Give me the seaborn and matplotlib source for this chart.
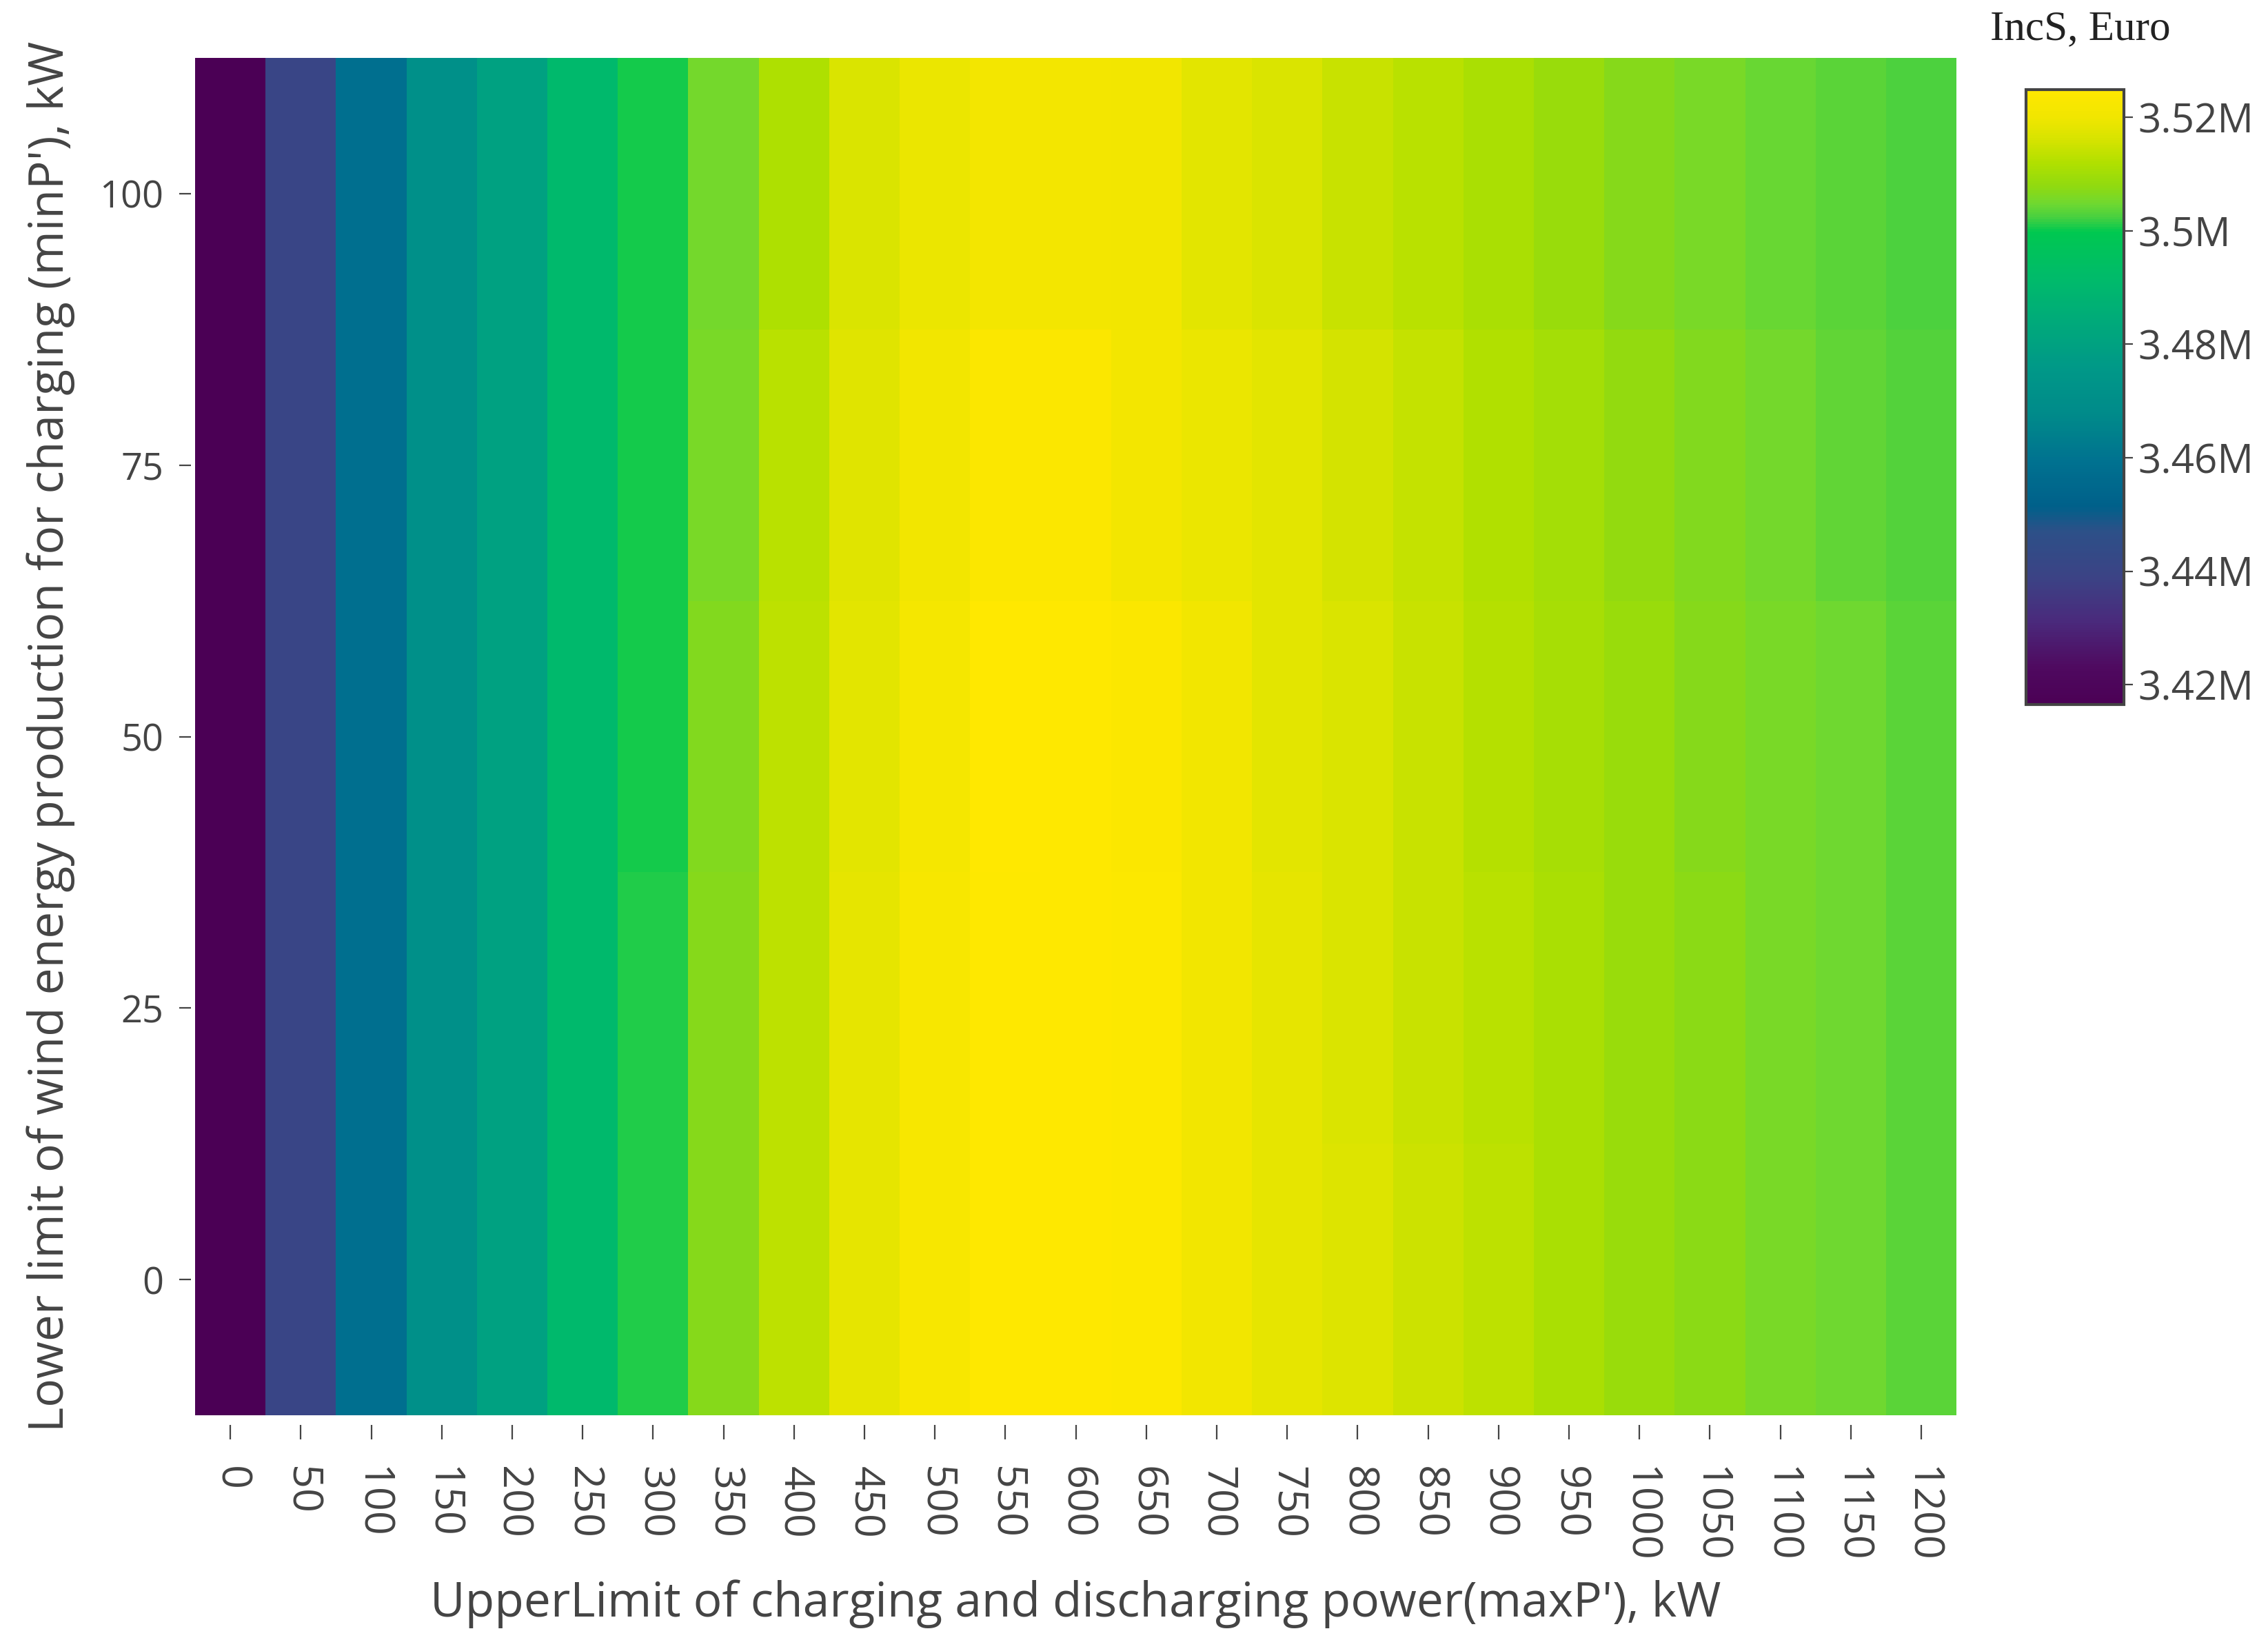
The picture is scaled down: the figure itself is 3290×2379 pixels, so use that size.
import numpy as np
import pandas as pd
import seaborn as sns
import matplotlib.pyplot as plt
from matplotlib.colors import LinearSegmentedColormap
from matplotlib.ticker import FuncFormatter

# x: UpperLimit of charging/discharging power (kW), y: lower limit of wind production (kW)
max_p = list(range(0, 1250, 50))
min_p = [100, 75, 50, 25, 0]  # top row first

# IncS in million Euro, one list per minP' row
row_100 = [3.4165, 3.4405, 3.4580, 3.4710, 3.4800, 3.4910, 3.5005, 3.5050, 3.5115, 3.5165,
           3.5190, 3.5210, 3.5210, 3.5205, 3.5180, 3.5165, 3.5145, 3.5130, 3.5112, 3.5090,
           3.5070, 3.5058, 3.5045, 3.5035, 3.5025]
row_75 = [3.4165, 3.4405, 3.4580, 3.4710, 3.4800, 3.4910, 3.5005, 3.5058, 3.5130, 3.5175,
          3.5205, 3.5235, 3.5235, 3.5210, 3.5190, 3.5178, 3.5160, 3.5140, 3.5118, 3.5103,
          3.5080, 3.5063, 3.5053, 3.5040, 3.5030]
row_50 = [3.4165, 3.4405, 3.4580, 3.4710, 3.4800, 3.4910, 3.5005, 3.5063, 3.5132, 3.5180,
          3.5215, 3.5249, 3.5244, 3.5235, 3.5205, 3.5180, 3.5165, 3.5145, 3.5125, 3.5108,
          3.5090, 3.5070, 3.5055, 3.5046, 3.5034]
row_25 = [3.4165, 3.4405, 3.4580, 3.4710, 3.4800, 3.4910, 3.5010, 3.5068, 3.5132, 3.5185,
          3.5220, 3.5244, 3.5244, 3.5238, 3.5205, 3.5185, 3.5165, 3.5145, 3.5130, 3.5110,
          3.5090, 3.5073, 3.5055, 3.5046, 3.5035]
row_0 = [3.4165, 3.4405, 3.4580, 3.4710, 3.4800, 3.4910, 3.5010, 3.5068, 3.5132, 3.5185,
         3.5220, 3.5244, 3.5244, 3.5238, 3.5205, 3.5185, 3.5170, 3.5150, 3.5132, 3.5110,
         3.5090, 3.5075, 3.5057, 3.5047, 3.5035]

cbar_ticks = [3.42, 3.44, 3.46, 3.48, 3.50, 3.52]

df = pd.DataFrame([row_100, row_75, row_50, row_25, row_0], index=min_p, columns=max_p)

# colour scale as seen on the reference colourbar
stops = [(0.0, '#4b0055'), (0.06, '#4f0a60'), (0.134, '#4a2a7c'), (0.207, '#3b4385'),
         (0.281, '#2d5088'), (0.321, '#00608a'), (0.396, '#007290'), (0.470, '#008a8a'),
         (0.546, '#009888'), (0.623, '#00aa7a'), (0.696, '#00bb6a'), (0.770, '#00c850'),
         (0.793, '#46d040'), (0.816, '#70d830'), (0.844, '#90da10'), (0.881, '#b0e000'),
         (0.918, '#d4e300'), (0.955, '#f0e600'), (1.0, '#ffe800')]
cmap = LinearSegmentedColormap.from_list('incs', stops)

sns.set_style('white')
plt.rcParams['font.family'] = ['Open Sans', 'DejaVu Sans']

fig = plt.figure(figsize=(32.91, 23.79), dpi=100)
ax = fig.add_axes([0.086, 0.137, 0.7764, 0.8277])
cax = fig.add_axes([0.893, 0.5704, 0.0431, 0.375])

sns.heatmap(df, ax=ax, cbar_ax=cax, cmap=cmap,
            vmin=df.values.min(), vmax=df.values.max(), linewidths=0)

grey = '#444444'
# ticks sit a little away from the cells, like the original
ax.spines['bottom'].set_position(('outward', 10))
ax.spines['left'].set_position(('outward', 4))

ax.set_xticks(np.arange(len(max_p)) + 0.5)
ax.set_xticklabels([str(v) for v in max_p], rotation=-90, ha='center', va='top')
ax.set_yticks(np.arange(len(min_p)) + 0.5)
ax.set_yticklabels([str(v) for v in min_p], rotation=0)
ax.tick_params(axis='both', direction='out', width=1.6, color=grey,
               labelcolor=grey, bottom=True, left=True)
ax.tick_params(axis='x', labelsize=44, length=15, pad=28)
ax.tick_params(axis='y', labelsize=39, length=12, pad=17)

ax.set_xlabel("UpperLimit of charging and discharging power(maxP'), kW",
              fontsize=50, color=grey, va='center')
ax.xaxis.set_label_coords(0.5, -0.139)
ax.set_ylabel("Lower limit of wind energy production for charging (minP'), kW",
              fontsize=50, color=grey, va='center')
ax.yaxis.set_label_coords(-0.082, 0.5)

# colourbar styling
cb = ax.collections[0].colorbar
cb.set_ticks(cbar_ticks)
cb.ax.yaxis.set_major_formatter(FuncFormatter(lambda v, p: f'{v:g}M'))
cb.ax.tick_params(direction='out', length=9, width=1.6, color=grey,
                  labelsize=42, labelcolor=grey, pad=6)
cb.outline.set_visible(True)
cb.outline.set_edgecolor(grey)
cb.outline.set_linewidth(3)

fig.text(0.917, 0.982, 'IncS, Euro', family='Liberation Serif', fontsize=44,
         color='#222222', ha='center', va='center')

plt.savefig('out.png', dpi=100)
